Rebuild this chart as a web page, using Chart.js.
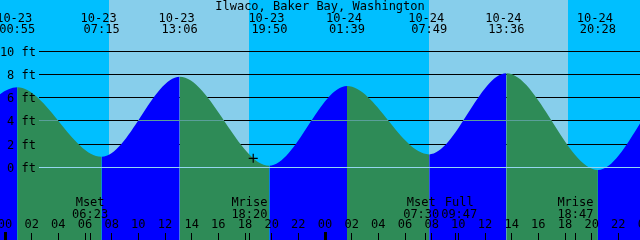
<!DOCTYPE html>
<html>
<head>
<meta charset="utf-8">
<title>Ilwaco, Baker Bay, Washington</title>
<script src="https://cdn.jsdelivr.net/npm/chart.js@4.4.1/dist/chart.umd.min.js"></script>
<style>
  html, body { margin: 0; padding: 0; background: #fff; }
</style>
</head>
<body>
<canvas id="tide" width="640" height="240"></canvas>
<script>
const STATION = 'Ilwaco, Baker Bay, Washington';

// tide highs and lows; the first two and last two sit just outside the window
const tideTimes = ['10-22 12:15', '10-22 18:35', '10-23 00:55', '10-23 07:15', '10-23 13:06', '10-23 19:50',
                   '10-24 01:39', '10-24 07:49', '10-24 13:36', '10-24 20:28', '10-25 02:25', '10-25 08:40'];
const tideFeet = [7.6, 1.3, 6.9, 0.93, 7.8, 0.15, 7.0, 1.13, 8.1, -0.21, 7.1, 0.9];

const sunrise = ['10-23 07:48', '10-24 07:49'];
const sunset = ['10-23 18:18', '10-24 18:14'];

const moonNames = ['Mset', 'Mrise', 'Mset', 'Full', 'Mrise'];
const moonTimes = ['10-23 06:23', '10-23 18:20', '10-24 07:30', '10-24 09:47', '10-24 18:47'];

// the "+" is the current time
const nowTime = '10-23 18:37';
const nowFeet = 0.79;

const levelFeet = [10, 8, 6, 4, 2, 0];
const levelLabels = ['10 ft', '8 ft', '6 ft', '4 ft', '2 ft', '0 ft'];

const hourTicks = [0, 2, 4, 6, 8, 10, 12, 14, 16, 18, 20, 22, 24, 26, 28, 30, 32, 34, 36, 38, 40, 42, 44, 46, 48];
const hourLabels = ['00', '02', '04', '06', '08', '10', '12', '14', '16', '18', '20', '22',
                    '00', '02', '04', '06', '08', '10', '12', '14', '16', '18', '20', '22', '00'];

// window: 48 hours over 640px, feet scale so that 0 ft sits on row 167
const X_MIN = -0.375, X_MAX = 47.625;
const Y_MIN = -6.23, Y_MAX = 14.40;

const NIGHT = '#00bfff', DAY = '#87ceeb';
const RISING = '#0000ff', FALLING = '#2e8b57';
const MSL_COLOR = '#5a9f9a', DATUM_COLOR = '#94d6f0';
const FONT = '12px "DejaVu Sans Mono", monospace';
const LINE_START = 39;

// "10-23 07:15" -> hours from 10-23 00:00
function hrs(s) {
    const [d, t] = s.split(' ');
    const [h, m] = t.split(':');
    return (Number(d.split('-')[1]) - 23) * 24 + Number(h) + Number(m) / 60;
}

const tidePlot = {
    id: 'tidePlot',
    beforeDatasetsDraw(chart) {
        const { ctx, chartArea: a, scales: { x, y } } = chart;
        ctx.save();
        ctx.fillStyle = NIGHT;
        ctx.fillRect(a.left, a.top, a.width, a.height);
        ctx.fillStyle = DAY;
        sunrise.forEach((r, i) => {
            const x0 = Math.round(x.getPixelForValue(hrs(r)));
            const x1 = Math.round(x.getPixelForValue(hrs(sunset[i])));
            ctx.fillRect(x0, a.top, x1 - x0, a.height);
        });
        // level lines behind the water
        ctx.fillStyle = '#000';
        levelFeet.forEach(v => {
            if (v === 0) return;
            ctx.fillRect(LINE_START, Math.floor(y.getPixelForValue(v)), a.right - LINE_START, 1);
        });
        ctx.restore();
    },
    afterDatasetsDraw(chart) {
        const { ctx, chartArea: a, scales: { x, y } } = chart;
        const pts = chart.getDatasetMeta(1).data;

        // mean level line, only seen through the water
        ctx.save();
        ctx.beginPath();
        ctx.moveTo(pts[0].x, pts[0].y);
        for (let i = 1; i < pts.length; i++) {
            const p = pts[i - 1], q = pts[i];
            ctx.bezierCurveTo(p.cp2x, p.cp2y, q.cp1x, q.cp1y, q.x, q.y);
        }
        ctx.lineTo(pts[pts.length - 1].x, a.bottom);
        ctx.lineTo(pts[0].x, a.bottom);
        ctx.closePath();
        ctx.clip();
        ctx.fillStyle = MSL_COLOR;
        ctx.fillRect(LINE_START, Math.floor(y.getPixelForValue(4)), a.right - LINE_START, 1);
        ctx.restore();

        ctx.save();
        ctx.fillStyle = DATUM_COLOR;
        ctx.fillRect(LINE_START, Math.floor(y.getPixelForValue(0)), a.right - LINE_START, 1);

        ctx.fillStyle = '#000';
        ctx.font = FONT;
        ctx.textBaseline = 'alphabetic';

        // level labels
        ctx.textAlign = 'right';
        levelFeet.forEach((v, i) => {
            ctx.fillText(levelLabels[i], 36, Math.floor(y.getPixelForValue(v)) + 5);
        });

        // title and tide times
        ctx.textAlign = 'center';
        ctx.fillText(STATION, 320, 10);
        tideTimes.forEach(t => {
            const h = hrs(t);
            if (h < X_MIN || h > X_MAX) return;
            const px = x.getPixelForValue(h);
            const [d, tm] = t.split(' ');
            ctx.fillText(d, px - 3, 22);
            ctx.fillText(tm, px, 33);
        });

        // moon events, pushed apart when they crowd
        const mx = moonTimes.map(t => x.getPixelForValue(hrs(t)));
        const lx = mx.slice();
        for (let i = 1; i < lx.length; i++) {
            const gap = lx[i] - lx[i - 1];
            if (gap < 38) {
                lx[i - 1] -= (38 - gap) / 2;
                lx[i] += (38 - gap) / 2;
            }
        }
        moonNames.forEach((n, i) => {
            ctx.fillText(n, lx[i], 206);
            ctx.fillText(moonTimes[i].split(' ')[1], lx[i], 218);
        });

        // hour labels and ticks
        hourTicks.forEach((h, i) => {
            const px = x.getPixelForValue(h);
            ctx.fillText(hourLabels[i], px, 228);
            if (h % 24 === 0) {
                ctx.fillRect(Math.round(px) - 1, 232, 3, a.bottom - 232);
            } else {
                ctx.fillRect(Math.floor(px), 233, 1, a.bottom - 233);
            }
        });
        mx.forEach(px => ctx.fillRect(Math.floor(px), 233, 1, a.bottom - 233));
        ctx.restore();
    }
};

new Chart(document.getElementById('tide'), {
    type: 'line',
    data: {
        datasets: [
            {
                type: 'scatter',
                data: [{ x: hrs(nowTime), y: nowFeet }],
                pointStyle: 'cross',
                pointRadius: 4.5,
                pointBorderColor: '#000',
                pointBorderWidth: 1.2,
                showLine: false
            },
            {
                data: tideTimes.map((t, i) => ({ x: hrs(t), y: tideFeet[i] })),
                cubicInterpolationMode: 'monotone',
                pointRadius: 0,
                borderWidth: 0,
                borderColor: 'rgba(0,0,0,0)',
                fill: 'start',
                backgroundColor: FALLING,
                segment: {
                    backgroundColor: c => c.p1.parsed.y > c.p0.parsed.y ? RISING : FALLING
                }
            }
        ]
    },
    options: {
        responsive: false,
        animation: false,
        events: [],
        layout: { padding: 0, autoPadding: false },
        plugins: { legend: { display: false }, tooltip: { enabled: false } },
        scales: {
            x: { type: 'linear', min: X_MIN, max: X_MAX, display: false },
            y: { min: Y_MIN, max: Y_MAX, display: false }
        }
    },
    plugins: [tidePlot]
});
</script>
</body>
</html>
